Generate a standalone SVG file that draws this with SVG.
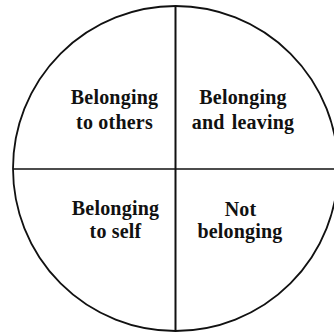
<svg xmlns="http://www.w3.org/2000/svg" width="334" height="332" viewBox="0 0 334 332">
<style>
.lbl{font-family:"Liberation Serif","Times New Roman",serif;font-weight:bold;font-size:20px;letter-spacing:0.2px;fill:#111;text-anchor:middle}
.ln{stroke:#111;fill:none}
</style>
<rect width="334" height="332" fill="#fff"/>
<g id="frame">
<circle class="ln" cx="175.5" cy="168.5" r="162.5" stroke-width="1.8"/>
</g>
<g id="connectors">
<line class="ln" x1="175.5" y1="6" x2="175.5" y2="331" stroke-width="2"/>
<line class="ln" x1="13" y1="169" x2="334" y2="169" stroke-width="1.4"/>
</g>
<g id="q-belonging-to-others">
<text class="lbl" x="114.5" y="104">Belonging</text>
<text class="lbl" x="114.5" y="129">to others</text>
</g>
<g id="q-belonging-and-leaving">
<text class="lbl" x="243" y="104">Belonging</text>
<text class="lbl" x="243" y="129" word-spacing="2">and leaving</text>
</g>
<g id="q-belonging-to-self">
<text class="lbl" x="115.5" y="215">Belonging</text>
<text class="lbl" x="115.5" y="238">to self</text>
</g>
<g id="q-not-belonging">
<text class="lbl" x="240.5" y="216">Not</text>
<text class="lbl" x="240" y="238">belonging</text>
</g>
</svg>
